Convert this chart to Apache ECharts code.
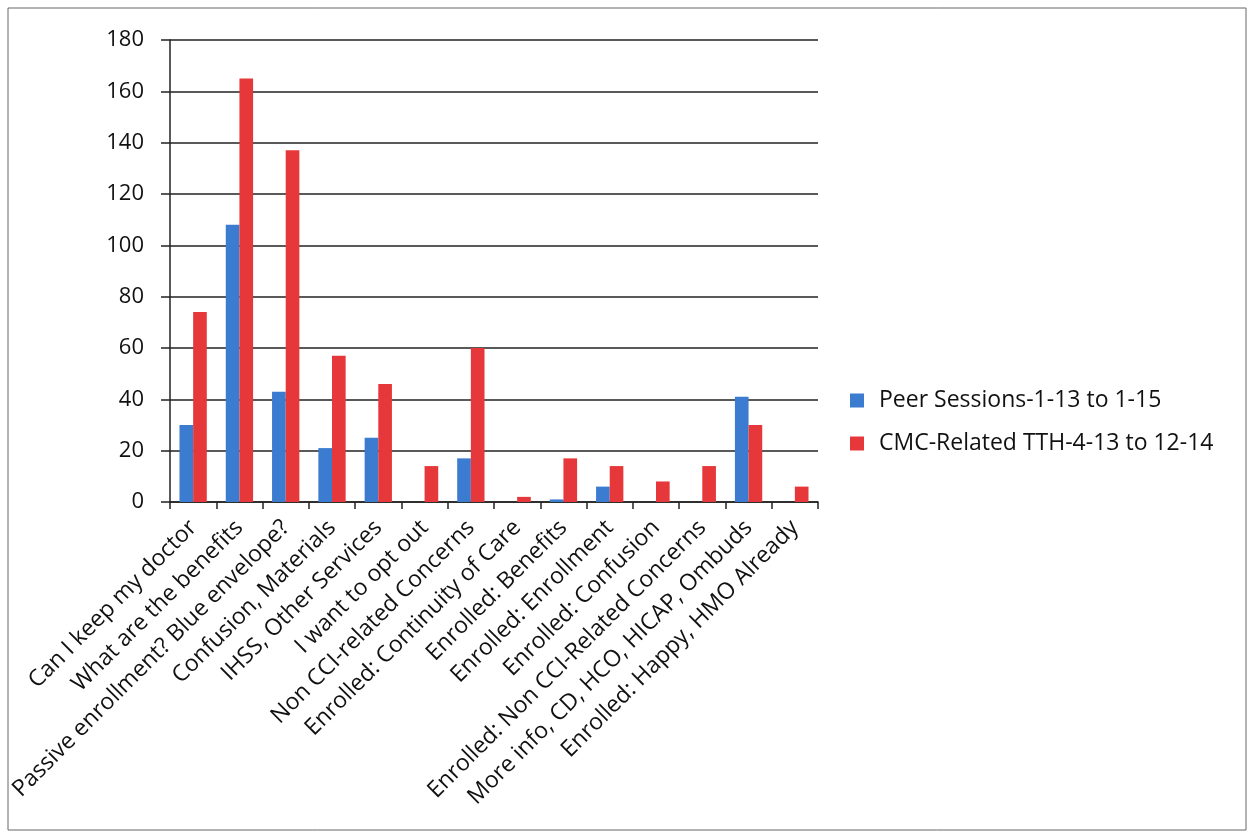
<!DOCTYPE html>
<html>
<head>
<meta charset="utf-8">
<script src="https://cdn.jsdelivr.net/npm/echarts@6/dist/echarts.min.js"></script>
<style>
html, body { margin: 0; padding: 0; background: #fff; }
#chart { width: 1250px; height: 836px; }
</style>
</head>
<body>
<div id="chart"></div>
<script>
// categories along the x axis
const categories = [
    'Can I keep my doctor',
    'What are the benefits',
    'Passive enrollment? Blue envelope?',
    'Confusion, Materials',
    'IHSS, Other Services',
    'I want to opt out',
    'Non CCI-related Concerns',
    'Enrolled: Continuity of Care',
    'Enrolled: Benefits',
    'Enrolled: Enrollment',
    'Enrolled: Confusion',
    'Enrolled: Non CCI-Related Concerns',
    'More info, CD, HCO, HICAP, Ombuds',
    'Enrolled: Happy, HMO Already'
];
const peerSessions = [30, 108, 43, 21, 25, 0, 17, 0, 1, 6, 0, 0, 41, 0];
const cmcRelated = [74, 165, 137, 57, 46, 14, 60, 2, 17, 14, 8, 14, 30, 6];
const seriesNames = ['Peer Sessions-1-13 to 1-15', 'CMC-Related TTH-4-13 to 12-14'];

const myChart = echarts.init(document.getElementById('chart'));
const font = '"Open Sans", Lato, sans-serif';
const option = {
    animation: false,
    backgroundColor: '#fff',
    color: ['#3b7bd0', '#e6383a'],
    graphic: [{
        type: 'rect',
        shape: { x: 8, y: 8, width: 1238, height: 822 },
        style: { fill: 'none', stroke: '#666', lineWidth: 1 }
    }],
    legend: {
        orient: 'vertical',
        left: 845,
        top: 384,
        itemGap: 20,
        itemWidth: 14,
        itemHeight: 14,
        icon: 'rect',
        textStyle: { fontFamily: font, fontSize: 23, color: '#111', padding: [0, 0, 0, 10] },
        data: seriesNames
    },
    grid: {
        left: 170,
        right: 432,
        top: 40,
        bottom: 334,
        containLabel: false
    },
    xAxis: {
        type: 'category',
        data: categories,
        axisLine: { lineStyle: { color: '#222', width: 1.5 } },
        axisTick: { show: true, length: 7, lineStyle: { color: '#222', width: 1.5 } },
        axisLabel: {
            interval: 0,
            rotate: 45,
            margin: 22,
            fontFamily: font,
            fontSize: 23,
            color: '#111'
        }
    },
    yAxis: {
        type: 'value',
        min: 0,
        max: 180,
        interval: 20,
        axisLine: { show: true, lineStyle: { color: '#222', width: 1.5 } },
        axisTick: { show: true, length: 9, lineStyle: { color: '#222', width: 1.5 } },
        axisLabel: { fontFamily: font, fontSize: 22, color: '#111', margin: 26 },
        splitLine: { lineStyle: { color: '#222', width: 1.5 } }
    },
    series: [
        {
            name: seriesNames[0],
            type: 'bar',
            data: peerSessions,
            barGap: '0%',
            barCategoryGap: '41%'
        },
        {
            name: seriesNames[1],
            type: 'bar',
            data: cmcRelated
        }
    ]
};
myChart.setOption(option);
</script>
</body>
</html>
